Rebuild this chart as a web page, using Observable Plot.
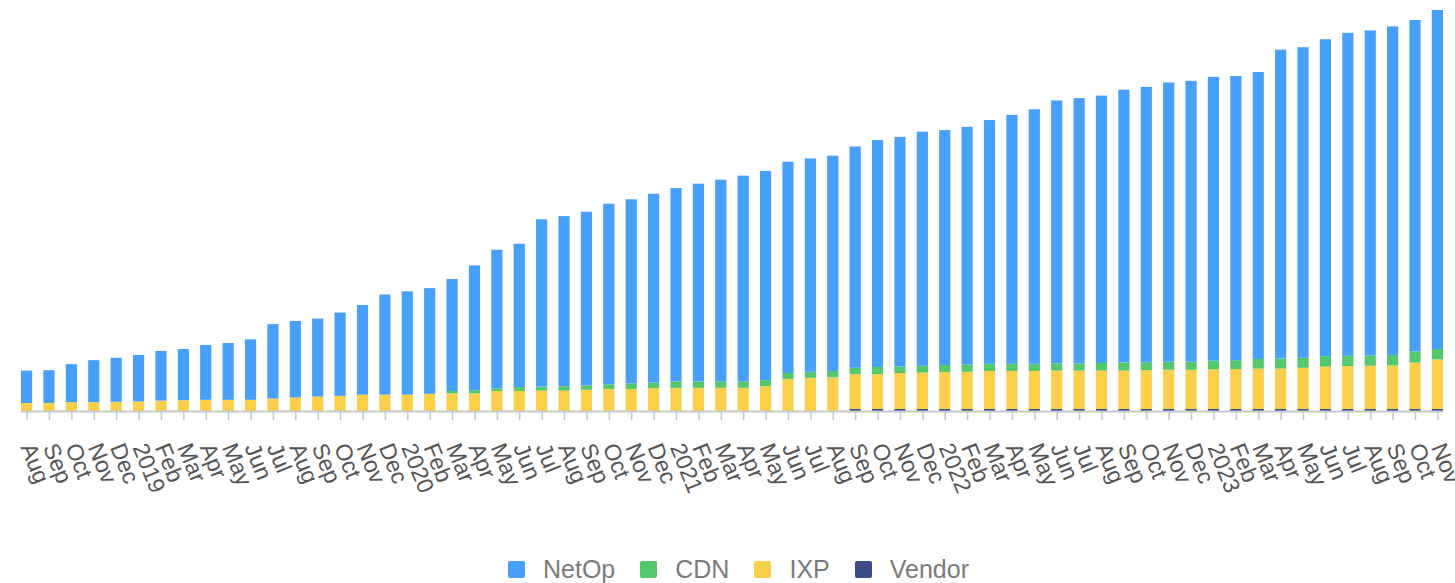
<!DOCTYPE html>
<html><head><meta charset="utf-8">
<script src="https://cdn.jsdelivr.net/npm/d3@7"></script>
<script src="https://cdn.jsdelivr.net/npm/@observablehq/plot@0.6"></script>
<style>
html,body{margin:0;padding:0;background:#fff;width:1455px;height:583px;overflow:hidden;font-family:"Liberation Sans",Arial,sans-serif;}
#chart{position:absolute;left:0;top:0;}
#legend{position:absolute;left:508px;top:556px;display:flex;align-items:center;font-size:25px;color:#7b7b7b;line-height:26px;}
.item{display:flex;align-items:center;margin-right:25px;}
.sw{width:17px;height:17px;border-radius:2px;margin-right:18px;}
</style></head><body>
<div id="chart"></div><div id="legend"></div>
<script>
const months = ["2018-08","2018-09","2018-10","2018-11","2018-12",
"2019-01","2019-02","2019-03","2019-04","2019-05","2019-06","2019-07","2019-08","2019-09","2019-10","2019-11","2019-12",
"2020-01","2020-02","2020-03","2020-04","2020-05","2020-06","2020-07","2020-08","2020-09","2020-10","2020-11","2020-12",
"2021-01","2021-02","2021-03","2021-04","2021-05","2021-06","2021-07","2021-08","2021-09","2021-10","2021-11","2021-12",
"2022-01","2022-02","2022-03","2022-04","2022-05","2022-06","2022-07","2022-08","2022-09","2022-10","2022-11","2022-12",
"2023-01","2023-02","2023-03","2023-04","2023-05","2023-06","2023-07","2023-08","2023-09","2023-10","2023-11"];
const monthLabels = ["Aug","Sep","Oct","Nov","Dec",
"2019","Feb","Mar","Apr","May","Jun","Jul","Aug","Sep","Oct","Nov","Dec",
"2020","Feb","Mar","Apr","May","Jun","Jul","Aug","Sep","Oct","Nov","Dec",
"2021","Feb","Mar","Apr","May","Jun","Jul","Aug","Sep","Oct","Nov","Dec",
"2022","Feb","Mar","Apr","May","Jun","Jul","Aug","Sep","Oct","Nov","Dec",
"2023","Feb","Mar","Apr","May","Jun","Jul","Aug","Sep","Oct","Nov"];
const netop = [81,82,95,105,110,116,124,128,137,142,151,186,191,195,208,224,250,258,264,280,312,346,358,418,425,434,451,460,472,483,494,504,514,523,528,533,538,553,567,574,585,587,594,609,622,636,657,663,668,682,688,698,702,709,710,717,772,776,792,807,812,821,828,847];
const cdn = [0,0,0,0,0,0,0,0,0,0,0,0,0,0,0,0,0,0,0,6,8,7,10,10,11,11,12,14,14,16,16,16,16,15,15,15,16,16,18,16,17,18,18,18,18,18,18,18,19,20,20,20,20,22,22,24,25,25,26,26,26,26,28,26];
const ixp = [20,20,22,22,23,24,26,27,28,28,28,31,34,36,38,41,41,41,43,44,44,50,50,51,51,53,55,55,57,58,58,58,58,62,80,83,84,87,87,90,91,92,93,95,95,95,96,96,96,96,97,98,98,99,100,101,101,103,106,107,108,109,116,124];
const vendor = [0,0,0,0,0,0,0,0,0,0,0,0,0,0,0,0,0,0,0,0,0,0,0,0,0,0,0,0,0,0,0,0,0,0,0,0,0,5,5,5,5,5,5,5,5,5,5,5,5,5,5,5,5,5,5,5,5,5,5,5,5,5,5,5];
const seriesNames = ["NetOp","CDN","IXP","Vendor"];
const seriesColors = ["#48a0fb","#55c86e","#fad04b","#3d4b88"];
const stackOrder = ["Vendor","IXP","CDN","NetOp"];

const seriesValues = {NetOp: netop, CDN: cdn, IXP: ixp, Vendor: vendor};
const data = [];
months.forEach((m, i) => {
  for (const s of stackOrder) data.push({month: m, type: s, value: seriesValues[s][i]});
});

const chart = Plot.plot({
  width: 1455, height: 545,
  marginTop: 10, marginBottom: 134, marginLeft: 21, marginRight: 12,
  style: {fontFamily: '"Liberation Sans", Arial, sans-serif', fontSize: "23px", background: "white"},
  x: {type: "band", domain: months, paddingInner: 0.5, paddingOuter: 0, round: false, label: null},
  y: {axis: null},
  color: {domain: seriesNames, range: seriesColors},
  marks: [
    Plot.barY(data, Plot.stackY({x: "month", y: "value", fill: "type", order: stackOrder})),
    Plot.ruleY([0], {stroke: "#c8c8c8", strokeWidth: 2}),
    Plot.axisX({
      tickSize: 9, stroke: "#c8c8c8", strokeWidth: 1.5, fill: "#555",
      tickRotate: 68, tickPadding: 24, textAnchor: "start", lineAnchor: "middle",
      fontSize: 23, label: null,
      tickFormat: d => monthLabels[months.indexOf(d)]
    })
  ]
});
document.getElementById("chart").appendChild(chart);

const legend = document.getElementById("legend");
seriesNames.forEach((n, i) => {
  const it = document.createElement("div");
  it.className = "item";
  const sw = document.createElement("span");
  sw.className = "sw";
  sw.style.background = seriesColors[i];
  const tx = document.createElement("span");
  tx.textContent = n;
  it.appendChild(sw); it.appendChild(tx);
  legend.appendChild(it);
});
</script>
</body></html>
